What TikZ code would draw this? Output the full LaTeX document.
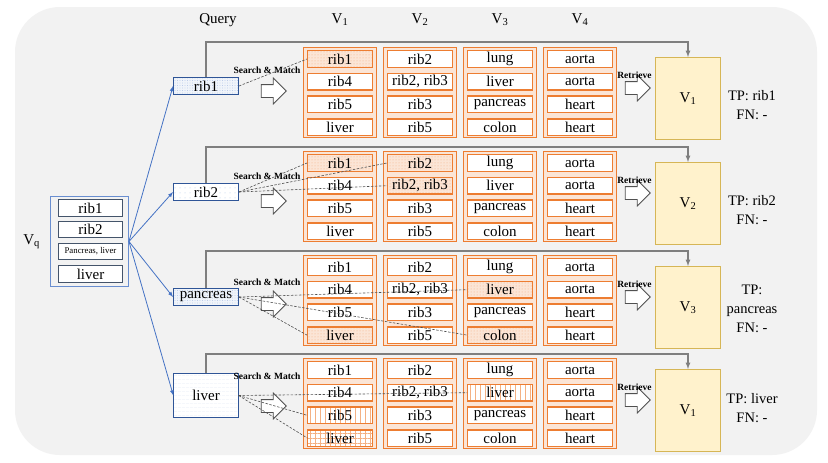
\documentclass[tikz,border=0pt]{standalone}
\usepackage{fontspec}
\setmainfont{Liberation Serif}
\usepackage{tikz}
\usepackage{xcolor}
\usetikzlibrary{positioning}
\usetikzlibrary{arrows}
\usetikzlibrary{shapes.arrows}
\usetikzlibrary{patterns.meta}
\definecolor{panelGray}{RGB}{242,242,242}
\definecolor{cellOrange}{RGB}{237,125,49}
\definecolor{cellPeach}{RGB}{251,229,214}
\definecolor{voteFill}{RGB}{255,242,204}
\definecolor{voteDraw}{RGB}{214,182,86}
\definecolor{linkBlue}{RGB}{68,114,196}
\definecolor{queryBlue}{RGB}{47,85,151}
\definecolor{slateBlue}{RGB}{68,84,106}
\definecolor{loopGray}{RGB}{127,127,127}
\definecolor{dashGray}{RGB}{80,80,80}

\begin{document}
\begin{tikzpicture}[x=1pt,y=-1pt,
  txt/.style={font=\fontsize{15}{15}\selectfont, inner sep=0pt},
  tag/.style={font=\fontsize{9.5}{10}\selectfont\bfseries, inner sep=0pt},
  cell/.style={txt, draw=cellOrange, line width=1.4pt, fill=white, minimum width=64.6pt, minimum height=16.6pt},
  colbox/.style={draw=cellOrange, line width=0.7pt, fill=cellPeach, minimum width=73pt, minimum height=90pt, inner sep=0pt},
  nohit/.style={},
  hitdot/.style={preaction={fill=cellPeach}, pattern={Dots[radius=0.5pt,distance=3pt]}, pattern color=cellOrange!60},
  hitvert/.style={preaction={fill=white}, pattern={Lines[angle=90,distance=5pt,line width=0.5pt]}, pattern color=cellOrange!60},
  hitgrid/.style={preaction={fill=white}, pattern={Hatch[angle=0,distance=5pt,line width=0.5pt]}, pattern color=cellOrange!60},
  query/.style={txt, draw=queryBlue, line width=0.9pt, minimum width=65pt, minimum height=17pt},
  qdots/.style={preaction={fill=linkBlue!8}, pattern={Dots[radius=0.45pt,distance=2.5pt]}, pattern color=linkBlue!50},
  qsparse/.style={preaction={fill=white}, pattern={Dots[radius=0.5pt,distance=5pt]}, pattern color=linkBlue!40},
  qlines/.style={preaction={fill=white}, pattern={Lines[angle=0,distance=4pt,line width=0.3pt]}, pattern color=linkBlue!15},
  vqcell/.style={txt, draw=slateBlue, line width=0.9pt, fill=white, minimum width=64pt, minimum height=16.5pt},
  vote/.style={txt, draw=voteDraw, line width=0.9pt, fill=voteFill, minimum width=65pt, minimum height=82pt},
  score/.style={font=\fontsize{14.5}{19}\selectfont, align=center, inner sep=0pt},
  hollow/.style={single arrow, draw=dashGray, fill=white, line width=0.8pt, minimum height=25pt, inner sep=6pt, single arrow head extend=6.5pt},
  link/.style={draw=linkBlue, line width=0.8pt, -latex},
  loopback/.style={draw=loopGray, line width=1.2pt, -latex},
  match/.style={draw=dashGray, line width=0.6pt, dash pattern=on 2.5pt off 1.5pt},
]
\useasboundingbox (0,0) rectangle (828,463);
\fill [white] (0,0) rectangle (828,463);
\fill [panelGray, rounded corners=45pt] (15,7) rectangle (817,455);

\node [txt] (hq) at (218,20) {Query};
\node [txt] (h1) at (340,20) {V\textsubscript{1}};
\node [txt] (h2) at (420,20) {V\textsubscript{2}};
\node [txt] (h3) at (500,20) {V\textsubscript{3}};
\node [txt] (h4) at (580,20) {V\textsubscript{4}};

\node [draw=linkBlue!80, line width=0.9pt, minimum width=78pt, minimum height=90pt] (vq) at (89.5,241.5) {};
\node [vqcell] (vq1) at (90.5,208) {rib1};
\node [vqcell] (vq2) at (90.5,229.5) {rib2};
\node [vqcell, font=\fontsize{8.8}{9}\selectfont] (vq3) at (90.5,251.5) {Pancreas, liver};
\node [vqcell] (vq4) at (90.5,274) {liver};
\node [txt, left=10pt of vq] (vql) {V\textsubscript{q}};

\node [query, qdots] (q1) at (206,86) {rib1};
\node [query, qsparse] (q2) at (206,192) {rib2};
\node [query, qdots] (q3) at (206,297) {pancreas};
\node [query, qlines, minimum height=44pt] (q4) at (206,395.5) {liver};
\draw [link] (vq.east) -- (q1.west);
\draw [link] (vq.east) -- (q2.west);
\draw [link] (vq.east) -- (q3.west);
\draw [link] (vq.east) -- (q4.west);

% block 1
\foreach \x [count=\c] in {340,420,500,580}
  \node [colbox] (k1\c) at (\x,92.5) {};
\foreach \t/\s [count=\r] in {rib1/hitdot,rib4/nohit,rib5/nohit,liver/nohit}
  \node [cell,\s] (c11\r) at (340,{36.3+22.7*\r}) {\t};
\foreach \t/\s [count=\r] in {rib2/nohit,{rib2, rib3}/nohit,rib3/nohit,rib5/nohit}
  \node [cell,\s] (c12\r) at (420,{36.3+22.7*\r}) {\t};
\foreach \t/\s [count=\r] in {lung/nohit,liver/nohit,pancreas/nohit,colon/nohit}
  \node [cell,\s] (c13\r) at (500,{36.3+22.7*\r}) {\t};
\foreach \t/\s [count=\r] in {aorta/nohit,aorta/nohit,heart/nohit,heart/nohit}
  \node [cell,\s] (c14\r) at (580,{36.3+22.7*\r}) {\t};

% block 2
\foreach \x [count=\c] in {340,420,500,580}
  \node [colbox] (k2\c) at (\x,196.5) {};
\foreach \t/\s [count=\r] in {rib1/hitdot,rib4/nohit,rib5/nohit,liver/nohit}
  \node [cell,\s] (c21\r) at (340,{140.3+22.7*\r}) {\t};
\foreach \t/\s [count=\r] in {rib2/hitdot,{rib2, rib3}/hitdot,rib3/nohit,rib5/nohit}
  \node [cell,\s] (c22\r) at (420,{140.3+22.7*\r}) {\t};
\foreach \t/\s [count=\r] in {lung/nohit,liver/nohit,pancreas/nohit,colon/nohit}
  \node [cell,\s] (c23\r) at (500,{140.3+22.7*\r}) {\t};
\foreach \t/\s [count=\r] in {aorta/nohit,aorta/nohit,heart/nohit,heart/nohit}
  \node [cell,\s] (c24\r) at (580,{140.3+22.7*\r}) {\t};

% block 3
\foreach \x [count=\c] in {340,420,500,580}
  \node [colbox] (k3\c) at (\x,300.5) {};
\foreach \t/\s [count=\r] in {rib1/nohit,rib4/nohit,rib5/nohit,liver/hitdot}
  \node [cell,\s] (c31\r) at (340,{244.3+22.7*\r}) {\t};
\foreach \t/\s [count=\r] in {rib2/nohit,{rib2, rib3}/nohit,rib3/nohit,rib5/nohit}
  \node [cell,\s] (c32\r) at (420,{244.3+22.7*\r}) {\t};
\foreach \t/\s [count=\r] in {lung/nohit,liver/hitdot,pancreas/nohit,colon/hitdot}
  \node [cell,\s] (c33\r) at (500,{244.3+22.7*\r}) {\t};
\foreach \t/\s [count=\r] in {aorta/nohit,aorta/nohit,heart/nohit,heart/nohit}
  \node [cell,\s] (c34\r) at (580,{244.3+22.7*\r}) {\t};

% block 4
\foreach \x [count=\c] in {340,420,500,580}
  \node [colbox] (k4\c) at (\x,403.5) {};
\foreach \t/\s [count=\r] in {rib1/nohit,rib4/nohit,rib5/hitvert,liver/hitgrid}
  \node [cell,\s] (c41\r) at (340,{347.3+22.7*\r}) {\t};
\foreach \t/\s [count=\r] in {rib2/nohit,{rib2, rib3}/nohit,rib3/nohit,rib5/nohit}
  \node [cell,\s] (c42\r) at (420,{347.3+22.7*\r}) {\t};
\foreach \t/\s [count=\r] in {lung/nohit,liver/hitvert,pancreas/nohit,colon/nohit}
  \node [cell,\s] (c43\r) at (500,{347.3+22.7*\r}) {\t};
\foreach \t/\s [count=\r] in {aorta/nohit,aorta/nohit,heart/nohit,heart/nohit}
  \node [cell,\s] (c44\r) at (580,{347.3+22.7*\r}) {\t};

\node [vote] (v1) at (688,98.5) {V\textsubscript{1}};
\node [vote] (v2) at (688,203.5) {V\textsubscript{2}};
\node [vote] (v3) at (688,307.5) {V\textsubscript{3}};
\node [vote] (v4) at (688,410.5) {V\textsubscript{1}};
\node [score] (tp1) at (752,105.5) {TP: rib1\\FN: -};
\node [score] (tp2) at (752,210) {TP: rib2\\FN: -};
\node [score] (tp3) at (752,309) {TP:\\pancreas\\FN: -};
\node [score] (tp4) at (752,408) {TP: liver\\FN: -};

\draw [loopback] (q1.north) |- ([yshift=15pt]v1.north) -- (v1.north);
\draw [loopback] (q2.north) |- ([yshift=15pt]v2.north) -- (v2.north);
\draw [loopback] (q3.north) |- ([yshift=15pt]v3.north) -- (v3.north);
\draw [loopback] (q4.north) |- ([yshift=15pt]v4.north) -- (v4.north);

\node [hollow] (s1) at (270.5,91) {};
\node [hollow] (s2) at (270.5,201) {};
\node [hollow] (s3) at (270.5,304) {};
\node [hollow] (s4) at (270.5,406) {};
\node [tag] (sm1) at (267,70) {Search \& Match};
\node [tag] (sm2) at (267,176) {Search \& Match};
\node [tag] (sm3) at (267,282) {Search \& Match};
\node [tag] (sm4) at (267,376) {Search \& Match};

\node [hollow] (r1) at (634.5,88) {};
\node [hollow] (r2) at (634.5,193) {};
\node [hollow] (r3) at (634.5,297) {};
\node [hollow] (r4) at (634.5,400) {};
\node [tag, above=2pt of r1] (rt1) {Retrieve};
\node [tag, above=2pt of r2] (rt2) {Retrieve};
\node [tag, above=2pt of r3] (rt3) {Retrieve};
\node [tag, above=2pt of r4] (rt4) {Retrieve};

\draw [match] (q1.east) -- (c111.west);
\draw [match] (q2.east) -- (c211.west);
\draw [match] (q2.east) -- (c221.west);
\draw [match] (q2.east) -- (c222.west);
\draw [match] (q3.east) -- (c314.west);
\draw [match] (q3.east) -- (c332.west);
\draw [match] (q3.east) -- (c334.west);
\draw [match] (q4.east) -- (c432.west);
\draw [match] (q4.east) -- (c413.west);
\draw [match] (q4.east) -- (c414.west);
\end{tikzpicture}
\end{document}
